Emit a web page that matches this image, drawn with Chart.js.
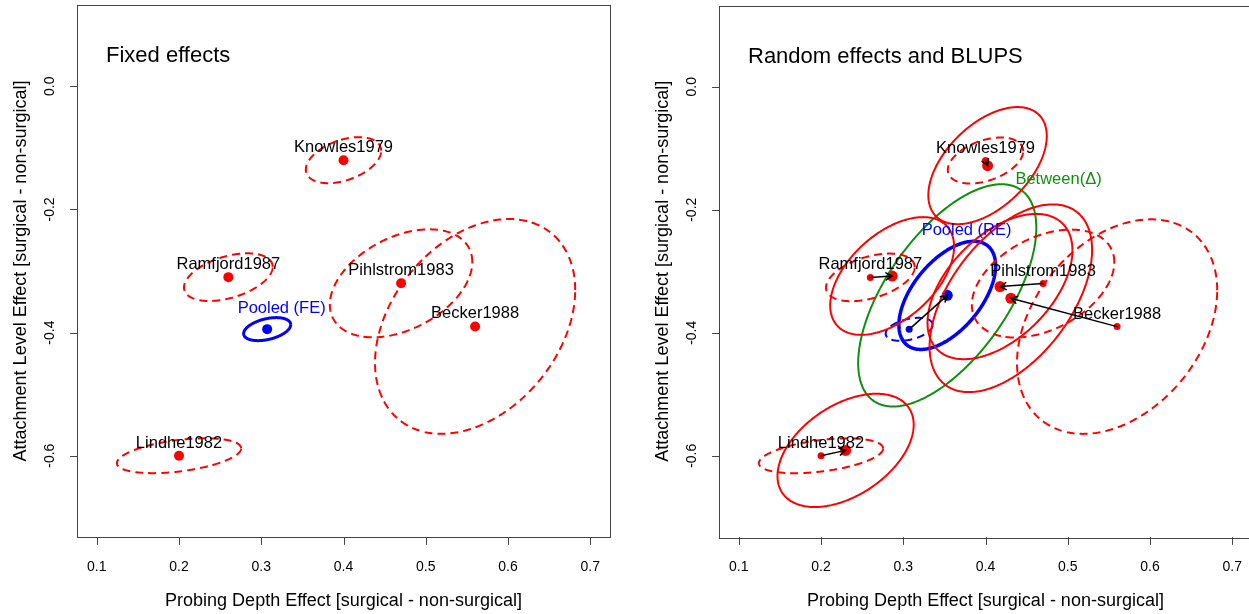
<!DOCTYPE html>
<html>
<head>
<meta charset="utf-8">
<title>Multivariate meta-analysis: fixed and random effects</title>
<script src="https://cdn.jsdelivr.net/npm/chart.js@4.4.1/dist/chart.umd.min.js"></script>
<style>
  html, body { margin: 0; padding: 0; background: #fff; width: 1249px; height: 614px; overflow: hidden; }
  canvas { position: absolute; top: 0; }
  #fixedPanel { left: 0; }
  #randomPanel { left: 642px; }
</style>
</head>
<body>
<canvas id="fixedPanel" width="624" height="614"></canvas>
<canvas id="randomPanel" width="624" height="614"></canvas>
<script>
// ---- study data: probing depth (PD) and attachment level (AL) effects ----
const studies    = ["Pihlstrom1983", "Lindhe1982", "Knowles1979", "Ramfjord1987", "Becker1988"];
const pdEffect   = [0.47, 0.20, 0.40, 0.26, 0.56];
const alEffect   = [-0.32, -0.60, -0.12, -0.31, -0.39];

// within-study standard errors and PD/AL correlation
const pdSE       = [0.0866, 0.0755, 0.0458, 0.0539, 0.1217];
const alSE       = [0.0877, 0.0283, 0.0374, 0.0387, 0.1744];
const withinCorr = [0.395, 0.422, 0.408, 0.432, 0.339];

// BLUPs (shrunken study estimates) and their prediction SDs / correlation
const blupPD     = [0.4176, 0.2299, 0.4025, 0.2865, 0.4308];
const blupAL     = [-0.3249, -0.5912, -0.1283, -0.3077, -0.3439];
const blupSDpd   = [0.0881, 0.0828, 0.0720, 0.0753, 0.0988];
const blupSDal   = [0.1181, 0.0921, 0.0952, 0.0957, 0.1526];
const blupCorr   = [0.498, 0.453, 0.506, 0.500, 0.516];

// pooled estimates [PD, AL], their SEs [PD, AL] and correlation
const pooledFE     = [0.3072, -0.3944];
const pooledFESE   = [0.0286, 0.0187];
const pooledFECorr = 0.389;
const pooledRE     = [0.3535, -0.3392];
const pooledRESE   = [0.0588, 0.0879];
const pooledRECorr = 0.547;

// between-study (co)variance: SDs [PD, AL] and correlation
const betweenSD   = [0.1083, 0.1807];
const betweenCorr = 0.609;

// axes
const xTicks      = [0.1, 0.2, 0.3, 0.4, 0.5, 0.6, 0.7];
const xTickLabels = ["0.1", "0.2", "0.3", "0.4", "0.5", "0.6", "0.7"];
const yTicks      = [0.0, -0.2, -0.4, -0.6];
const yTickLabels = ["0.0", "-0.2", "-0.4", "-0.6"];
const xLimits     = [0.1, 0.7];
const yLimits     = [-0.7, 0.1];

const xTitle = "Probing Depth Effect [surgical - non-surgical]";
const yTitle = "Attachment Level Effect [surgical - non-surgical]";

// ---- drawing helpers ----
const FONT = '"Liberation Sans", Arial, Helvetica, sans-serif';
const RED = "#ff0000", BLUE = "#0000ff", GREEN = "#0e900e";

// points on the 1-SD ellipse of a bivariate normal (Cholesky parameterisation)
function ellipse(cx, cy, sx, sy, r) {
  const n = 180, k = Math.sqrt(1 - r * r), pts = [];
  for (let i = 0; i <= n; i++) {
    const t = 2 * Math.PI * i / n;
    pts.push({ x: cx + sx * Math.cos(t), y: cy + sy * (r * Math.cos(t) + k * Math.sin(t)) });
  }
  return pts;
}

// a closed curve; the tiny tension keeps Chart.js off its x-sorted fast path
function curve(pts, color, width, dash) {
  return {
    type: "line", data: pts, borderColor: color, borderWidth: width,
    borderDash: dash || [], borderJoinStyle: "round", borderCapStyle: "butt",
    pointRadius: 0, fill: false, tension: 0.0001, showLine: true
  };
}

function dots(xs, ys, color, radius) {
  return {
    type: "scatter", data: xs.map((v, i) => ({ x: v, y: ys[i] })),
    pointRadius: radius, pointBackgroundColor: color, pointBorderColor: color,
    pointBorderWidth: 0, showLine: false
  };
}

const DASH = [8, 5];
const withinEllipses = studies.map((s, i) =>
  curve(ellipse(pdEffect[i], alEffect[i], pdSE[i], alSE[i], withinCorr[i]), RED, 2, DASH));

// R-style frame, axes, titles, labels and arrows
const rFrame = {
  id: "rFrame",
  afterDatasetsDraw(chart, args, o) {
    const { ctx, chartArea: a, scales } = chart;
    const X = v => scales.x.getPixelForValue(v);
    const Y = v => scales.y.getPixelForValue(v);
    ctx.save();

    // arrows from observed estimates to their shrunken counterparts
    ctx.strokeStyle = "#000"; ctx.lineWidth = 1.5; ctx.lineCap = "round";
    (o.arrows || []).forEach(([x0, y0, x1, y1]) => {
      const px0 = X(x0), py0 = Y(y0), px1 = X(x1), py1 = Y(y1);
      ctx.beginPath(); ctx.moveTo(px0, py0); ctx.lineTo(px1, py1); ctx.stroke();
      const ang = Math.atan2(py1 - py0, px1 - px0), L = 7, h = Math.PI / 6;
      ctx.beginPath();
      ctx.moveTo(px1 - L * Math.cos(ang - h), py1 - L * Math.sin(ang - h));
      ctx.lineTo(px1, py1);
      ctx.lineTo(px1 - L * Math.cos(ang + h), py1 - L * Math.sin(ang + h));
      ctx.stroke();
    });

    // study names above the observed estimates
    ctx.font = "16.5px " + FONT; ctx.fillStyle = "#000";
    ctx.textAlign = "center"; ctx.textBaseline = "alphabetic";
    studies.forEach((s, i) => ctx.fillText(s, X(pdEffect[i]), Y(alEffect[i]) - 8));

    // coloured annotations
    (o.notes || []).forEach(n => {
      ctx.fillStyle = n.color;
      ctx.fillText(n.text, X(n.x), Y(n.y));
    });

    // panel title
    ctx.font = "22px " + FONT; ctx.fillStyle = "#000"; ctx.textAlign = "left";
    ctx.fillText(o.title, a.left + 29, a.top + 57);

    // box
    ctx.strokeStyle = "#444"; ctx.lineWidth = 1;
    ctx.strokeRect(Math.round(a.left) + 0.5, Math.round(a.top) + 0.5,
                   Math.round(a.right - a.left), Math.round(a.bottom - a.top));

    // x axis
    const yb = Math.round(a.bottom) + 0.5;
    ctx.beginPath();
    xTicks.forEach(t => { const px = Math.round(X(t)) + 0.5; ctx.moveTo(px, yb); ctx.lineTo(px, yb + 7); });
    ctx.stroke();
    ctx.font = "14px " + FONT; ctx.fillStyle = "#000"; ctx.textAlign = "center";
    xTicks.forEach((t, i) => ctx.fillText(xTickLabels[i], X(t), a.bottom + 34));

    // y axis
    const xl = Math.round(a.left) + 0.5;
    ctx.beginPath();
    yTicks.forEach(t => { const py = Math.round(Y(t)) + 0.5; ctx.moveTo(xl, py); ctx.lineTo(xl - 7, py); });
    ctx.stroke();
    yTicks.forEach((t, i) => {
      ctx.save(); ctx.translate(a.left - 23, Y(t)); ctx.rotate(-Math.PI / 2);
      ctx.fillText(yTickLabels[i], 0, 0); ctx.restore();
    });

    // axis titles
    ctx.font = "18px " + FONT;
    ctx.fillText(xTitle, (a.left + a.right) / 2, a.bottom + 69);
    ctx.save(); ctx.translate(a.left - 51, (a.top + a.bottom) / 2); ctx.rotate(-Math.PI / 2);
    ctx.fillText(yTitle, 0, 0); ctx.restore();

    ctx.restore();
  }
};

const padX = 0.04 * (xLimits[1] - xLimits[0]);
const padY = 0.04 * (yLimits[1] - yLimits[0]);

function panelOptions(frame) {
  return {
    responsive: false, animation: false, events: [],
    layout: { padding: { left: 77, right: 14, top: 5, bottom: 77 } },
    plugins: { legend: { display: false }, tooltip: { enabled: false }, rFrame: frame },
    scales: {
      x: { type: "linear", min: xLimits[0] - padX, max: xLimits[1] + padX, display: false },
      y: { type: "linear", min: yLimits[0] - padY, max: yLimits[1] + padY, display: false }
    }
  };
}

// ---- left panel: fixed effects ----
new Chart(document.getElementById("fixedPanel"), {
  type: "scatter",
  data: {
    datasets: [
      ...withinEllipses,
      curve(ellipse(pooledFE[0], pooledFE[1], pooledFESE[0], pooledFESE[1], pooledFECorr), BLUE, 3),
      dots(pdEffect, alEffect, RED, 5),
      dots([pooledFE[0]], [pooledFE[1]], BLUE, 5)
    ]
  },
  options: panelOptions({
    title: "Fixed effects",
    notes: [{ text: "Pooled (FE)", x: 0.3248, y: -0.368, color: BLUE }]
  }),
  plugins: [rFrame]
});

// ---- right panel: random effects and BLUPs ----
const blupEllipses = studies.map((s, i) =>
  curve(ellipse(blupPD[i], blupAL[i], blupSDpd[i], blupSDal[i], blupCorr[i]), RED, 2));

new Chart(document.getElementById("randomPanel"), {
  type: "scatter",
  data: {
    datasets: [
      ...withinEllipses,
      ...blupEllipses,
      curve(ellipse(pooledRE[0], pooledRE[1], betweenSD[0], betweenSD[1], betweenCorr), GREEN, 2),
      curve(ellipse(pooledFE[0], pooledFE[1], pooledFESE[0], pooledFESE[1], pooledFECorr), BLUE, 2, DASH),
      curve(ellipse(pooledRE[0], pooledRE[1], pooledRESE[0], pooledRESE[1], pooledRECorr), BLUE, 3.5),
      dots(pdEffect, alEffect, RED, 3.5),
      dots(blupPD, blupAL, RED, 5.5),
      dots([pooledFE[0]], [pooledFE[1]], BLUE, 3.5),
      dots([pooledRE[0]], [pooledRE[1]], BLUE, 5.5)
    ]
  },
  options: panelOptions({
    title: "Random effects and BLUPS",
    arrows: [
      ...studies.map((s, i) => [pdEffect[i], alEffect[i], blupPD[i], blupAL[i]]),
      [pooledFE[0], pooledFE[1], pooledRE[0], pooledRE[1]]
    ],
    notes: [
      { text: "Pooled (RE)", x: 0.377, y: -0.2416, color: BLUE },
      { text: "Between(\u0394)", x: 0.4888, y: -0.1578, color: GREEN }
    ]
  }),
  plugins: [rFrame]
});
</script>
</body>
</html>
